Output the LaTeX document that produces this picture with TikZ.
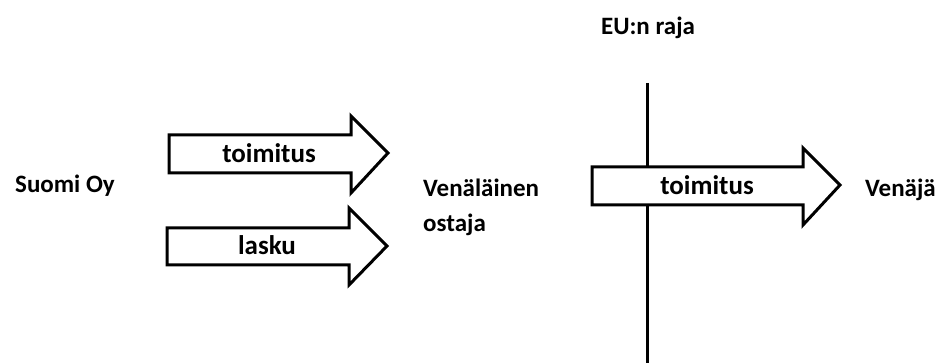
\documentclass[tikz,border=0pt]{standalone}
\usepackage{fontspec}
\setmainfont{Carlito}
\begin{document}
\begin{tikzpicture}[x=1pt,y=1pt,
  lbl/.style={font=\fontsize{25}{30}\selectfont\bfseries, inner sep=0pt},
  arrtxt/.style={font=\fontsize{27}{30}\selectfont\bfseries, inner sep=0pt, anchor=base},
  bigarrow/.style={draw=black, line width=3pt, fill=white, line join=miter},
  border/.style={draw=black, line width=3pt}]
\useasboundingbox (0,0) rectangle (951,363);
% border line
\coordinate (ltop) at (647,280);
\coordinate (lbot) at (647,0);
\draw[border] (ltop) -- (lbot);
% arrows
\draw[bigarrow] (169,228) -- (351,228) -- (351,247) -- (388,210) -- (351,170) -- (351,190) -- (169,190) -- cycle;
\draw[bigarrow] (167,135) -- (349,135) -- (349,155) -- (387,117) -- (349,78) -- (349,98) -- (167,98) -- cycle;
\draw[bigarrow] (592,196) -- (803,196) -- (803,215) -- (840,178) -- (803,138) -- (803,158) -- (592,158) -- cycle;
% arrow labels
\node[arrtxt] (t1) at (269,200) {toimitus};
\node[arrtxt] (t2) at (267,108) {lasku};
\node[arrtxt] (t3) at (707,168) {toimitus};
% labels
\node[lbl, anchor=base west] (suomi) at (15,170) {Suomi Oy};
\node[lbl, anchor=base west] (ven1) at (423,166) {Venäläinen};
\node[lbl, anchor=base west] (ven2) at (423,131) {ostaja};
\node[lbl, anchor=base west] (venaja) at (865,166) {Venäjä};
\node[lbl, anchor=base] (eu) at (648,328) {EU:n raja};
\end{tikzpicture}
\end{document}
